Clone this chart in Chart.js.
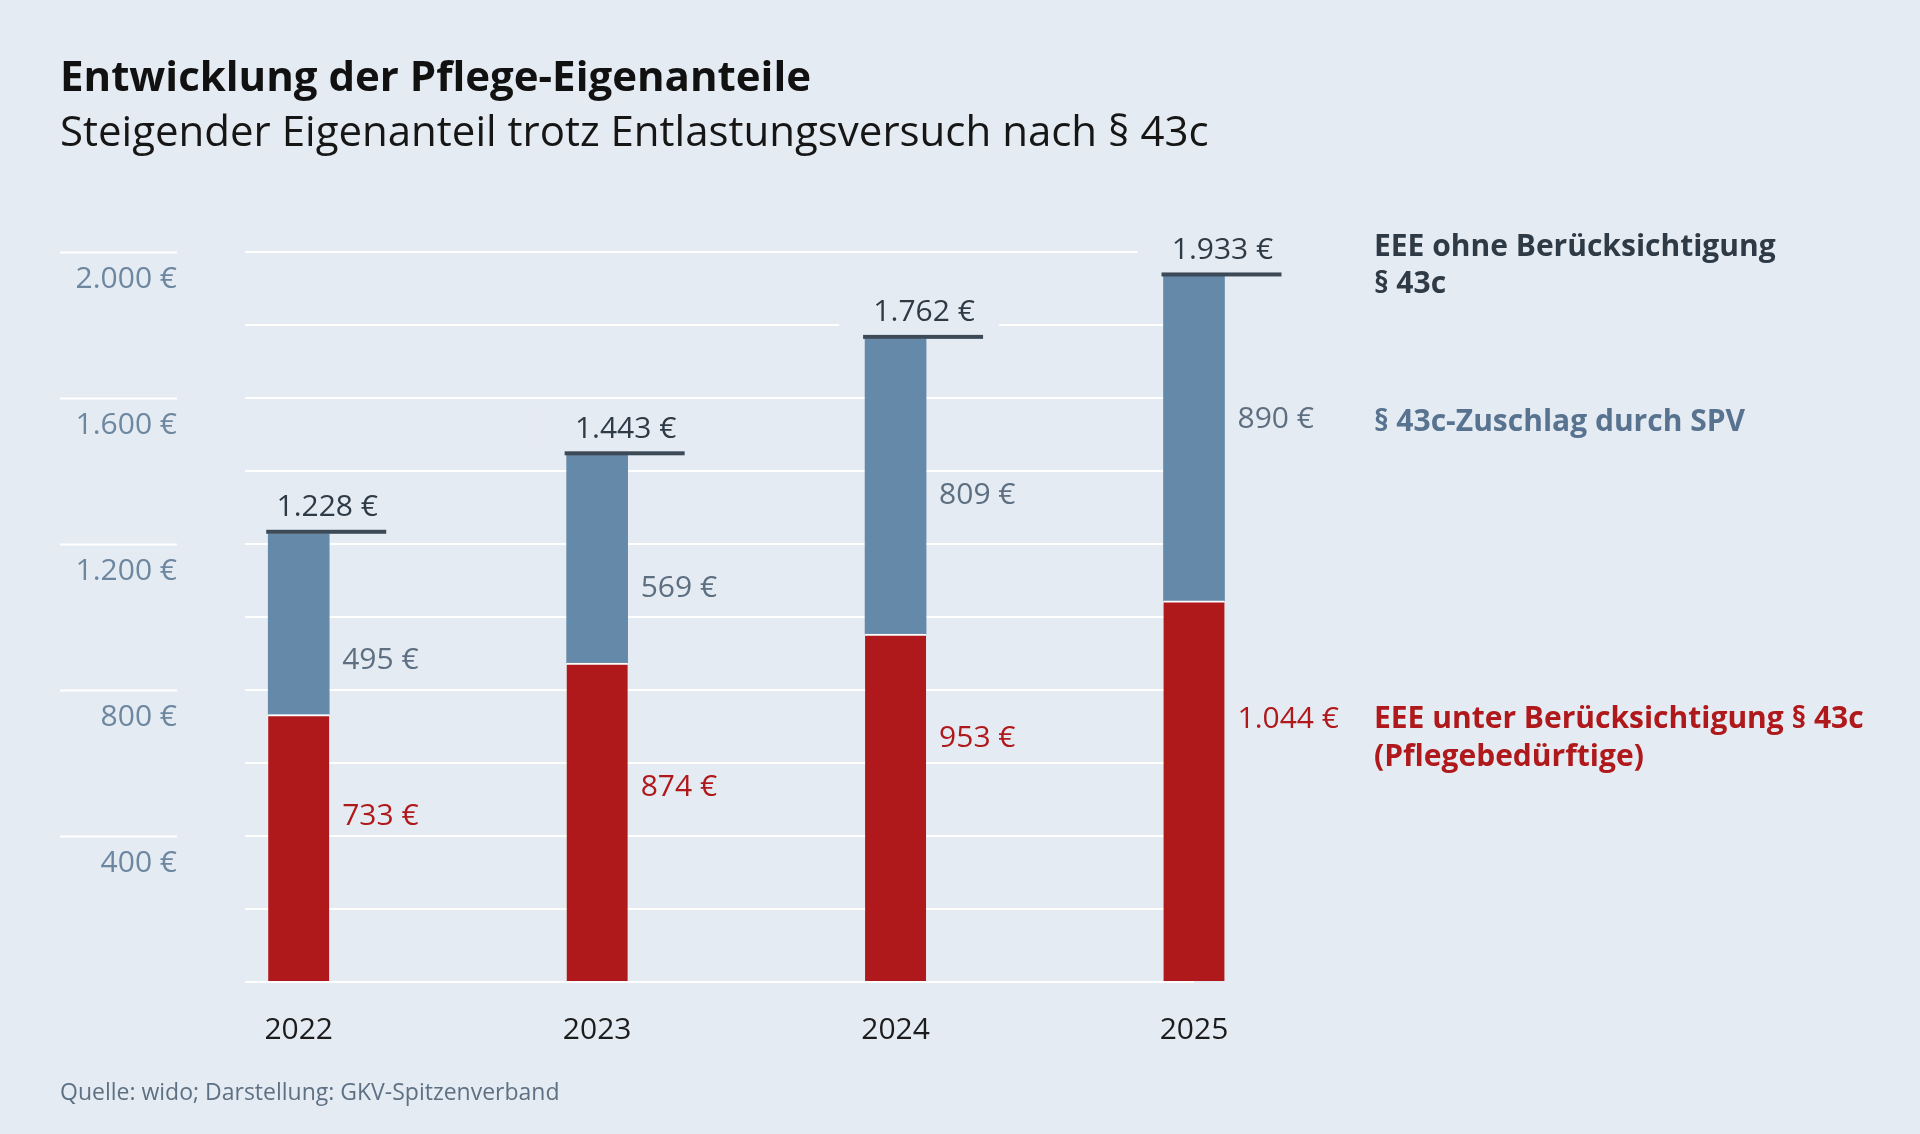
<!DOCTYPE html>
<html lang="de">
<head>
<meta charset="utf-8">
<script src="https://cdn.jsdelivr.net/npm/chart.js"></script>
<style>
  html,body{margin:0;padding:0;background:#e5ebf2;}
  body{width:1920px;height:1134px;position:relative;overflow:hidden;font-family:"Open Sans",sans-serif;}
  #wrap{position:absolute;left:0;top:0;width:1920px;height:1134px;}
  .t{position:absolute;left:60px;white-space:nowrap;line-height:1;}
  #title{top:54px;font-size:42px;font-weight:700;color:#111;}
  #sub{top:109px;font-size:42px;font-weight:400;color:#161616;}
  #src{top:1080px;font-size:23px;color:#5e7184;}
</style>
</head>
<body>
<div id="wrap"><canvas id="c" width="1920" height="1134"></canvas></div>
<div class="t" id="title">Entwicklung der Pflege-Eigenanteile</div>
<div class="t" id="sub">Steigender Eigenanteil trotz Entlastungsversuch nach § 43c</div>
<div class="t" id="src">Quelle: wido; Darstellung: GKV-Spitzenverband</div>
<script>
// ---- data ----
const YEARS = ['2022','2023','2024','2025'];
const EEE_MIT = [733, 874, 953, 1044];     // red, Pflegebedürftige
const ZUSCHLAG = [495, 569, 809, 890];     // blue, § 43c-Zuschlag
const TOTALS = [1228, 1443, 1762, 1933];   // EEE ohne § 43c
const Y_TICKS = [400, 800, 1200, 1600, 2000];

// ---- style ----
const BG = '#e5ebf2', RED = '#b0191b', BLUE = '#6489a9', DARK = '#2e3a46';
const FONT = '"Open Sans", sans-serif';
const fmt = v => String(v).replace(/\B(?=(\d{3})+(?!\d))/g, '.') + ' €';
// where the segment labels sit inside each segment (0 = bottom, 1 = top)
const RED_AT = [0.62, 0.61, 0.70, 0.69];
const BLUE_AT = [0.30, 0.36, 0.47, 0.56];

const labelsPlugin = {
  id: 'labels',
  beforeDatasetsDraw(chart){
    // short lines under the axis labels
    const ctx = chart.ctx, y = chart.scales.y;
    ctx.save();
    ctx.strokeStyle = '#ffffff'; ctx.lineWidth = 2;
    Y_TICKS.forEach(v=>{
      const py = Math.round(y.getPixelForValue(v)) + 0.5;
      ctx.beginPath(); ctx.moveTo(60, py); ctx.lineTo(177, py); ctx.stroke();
    });
    ctx.restore();
  },
  afterDatasetsDraw(chart){
    const ctx = chart.ctx, x = chart.scales.x, y = chart.scales.y;
    const half = 30.5;
    ctx.save();
    ctx.font = '30px ' + FONT;
    ctx.textBaseline = 'middle';
    YEARS.forEach((yr, i)=>{
      const cx = x.getPixelForValue(i);
      const left = cx - half, right = cx + half;
      // cap line + total (label sits on a box that hides the grid)
      const ty = y.getPixelForValue(TOTALS[i]);
      ctx.fillStyle = BG;
      ctx.fillRect(left - 26, ty - 50, 160, 46);
      ctx.fillStyle = '#3c4a58';
      ctx.fillRect(left - 2, ty - 4, 120, 4);
      ctx.fillStyle = DARK; ctx.textAlign = 'center';
      ctx.fillText(fmt(TOTALS[i]), left + 59, ty - 26);
      // segment labels
      ctx.textAlign = 'left';
      ctx.fillStyle = RED;
      ctx.fillText(fmt(EEE_MIT[i]), right + 13, y.getPixelForValue(EEE_MIT[i] * RED_AT[i]));
      ctx.fillStyle = '#5d6f80';
      ctx.fillText(fmt(ZUSCHLAG[i]), right + 13, y.getPixelForValue(EEE_MIT[i] + ZUSCHLAG[i] * BLUE_AT[i]));
    });
    // legend on the right
    ctx.font = '700 30px ' + FONT;
    ctx.textAlign = 'left';
    ctx.fillStyle = DARK;
    ctx.fillText('EEE ohne Berücksichtigung', 1374, 247);
    ctx.fillText('§ 43c', 1374, 284);
    ctx.fillStyle = '#577390';
    ctx.fillText('§ 43c-Zuschlag durch SPV', 1374, 422);
    ctx.fillStyle = RED;
    ctx.fillText('EEE unter Berücksichtigung § 43c', 1374, 719);
    ctx.fillText('(Pflegebedürftige)', 1374, 757);
    ctx.restore();
  }
};

new Chart(document.getElementById('c'), {
  type: 'bar',
  data: {
    datasets: [
      {label: 'EEE unter Berücksichtigung § 43c', data: EEE_MIT.map((v,i)=>({x:i, y:v})), backgroundColor: RED,
       borderColor: '#ffffff', borderWidth: {top: 2, left: 0, right: 0, bottom: 0}, borderSkipped: false, clip: false},
      {label: '§ 43c-Zuschlag durch SPV', data: ZUSCHLAG.map((v,i)=>({x:i, y:v})), backgroundColor: BLUE, clip: false}
    ]
  },
  options: {
    responsive: false, animation: false,
    barThickness: 61,
    layout: {padding: {top: 252, right: 726, bottom: 72, left: 0}},
    plugins: {legend: {display: false}, tooltip: {enabled: false}},
    scales: {
      x: {
        type: 'linear', stacked: true, min: -0.18, max: 3, offset: false,
        grid: {display: false}, border: {display: false},
        afterBuildTicks: s => { s.ticks = YEARS.map((_, i)=>({value: i})); },
        afterFit: s => { s.height = 80; },
        ticks: {callback: (v)=> YEARS[v], color: '#1c1c1c', font: {family: FONT, size: 30}, padding: 22, maxRotation: 0}
      },
      y: {
        stacked: true, min: 0, max: 2000,
        grid: {color: '#ffffff', lineWidth: 2, drawTicks: false}, border: {display: false},
        afterFit: s => { s.width = 245; },
        ticks: {
          stepSize: 200, padding: 68, labelOffset: 27,
          color: '#6d87a0', font: {family: FONT, size: 30},
          callback: v => Y_TICKS.includes(v) ? fmt(v) : ''
        }
      }
    }
  },
  plugins: [labelsPlugin]
});
</script>
</body>
</html>
